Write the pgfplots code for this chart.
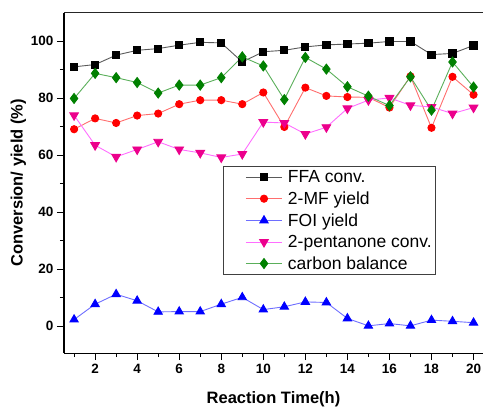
\documentclass[border=0pt]{standalone}
\usepackage{fontspec}
\setmainfont{Liberation Sans}
\usepackage{pgfplots}
\pgfplotsset{compat=1.18}

\definecolor{ffaline}{RGB}{90,90,90}
\definecolor{mfline}{RGB}{255,110,110}
\definecolor{foiline}{RGB}{110,110,255}
\definecolor{penline}{RGB}{255,110,255}
\definecolor{cbline}{RGB}{90,175,90}
\definecolor{cbgreen}{RGB}{0,128,0}

\begin{document}
\begin{tikzpicture}
\begin{axis}[
  name=A,
  scale only axis,
  width=419pt, height=340.5pt,
  xmin=0.52, xmax=20.45,
  ymin=-9.5, ymax=110,
  axis x line*=bottom, axis y line*=left,
  x axis line style={-}, y axis line style={-},
  axis line style={line width=1.1pt, black},
  tick align=outside,
  major tick length=7pt, minor tick length=4pt,
  tick style={line width=1pt, black},
  xtick={2,4,...,20}, minor xtick={1,3,...,19},
  ytick={0,20,...,100}, minor ytick={10,30,...,90},
  /pgf/number format/assume math mode=true,
  tick label style={font=\fontsize{13.5}{15}\selectfont\bfseries},
  xlabel={Reaction Time(h)},
  ylabel={Conversion/ yield (\%)},
  xlabel style={yshift=-11pt},
  ylabel style={yshift=-2pt},
  label style={font=\fontsize{16.5}{18}\selectfont\bfseries},
  legend style={at={(0.379,0.549)}, anchor=north west, draw=black!75,
    font=\fontsize{17.5}{20}\selectfont, cells={anchor=west},
    inner sep=2pt, row sep=3.6pt},
  legend image code/.code={
    \path[draw=none] (-21pt,-4pt) rectangle (40pt,4pt);
    \draw[mark repeat=2,mark phase=2,#1] plot coordinates {(0pt,0pt) (18pt,0pt) (36pt,0pt)};},
  every axis plot/.append style={line width=0.9pt},
]
\addplot[ffaline, mark=square*, mark size=3.6pt, mark options={fill=black, draw=black}] coordinates {
(1,91.0) (2,91.8) (3,95.1) (4,96.8) (5,97.4) (6,98.6) (7,99.6) (8,99.4) (9,92.7) (10,96.3)
(11,96.8) (12,98.0) (13,98.7) (14,99.0) (15,99.3) (16,99.9) (17,99.9) (18,95.3) (19,95.7) (20,98.5)};
\addlegendentry{FFA conv.}
\addplot[mfline, mark=*, mark size=3.6pt, mark options={fill=red, draw=red}] coordinates {
(1,69.1) (2,72.9) (3,71.3) (4,73.9) (5,74.6) (6,77.9) (7,79.3) (8,79.3) (9,77.9) (10,82.0)
(11,69.9) (12,83.7) (13,80.8) (14,80.4) (15,80.3) (16,76.7) (17,87.7) (18,69.6) (19,87.5) (20,81.2)};
\addlegendentry{2-MF yield}
\addplot[foiline, mark=triangle*, mark size=4.8pt, mark options={fill=blue, draw=blue}] coordinates {
(1,2.3) (2,7.7) (3,11.2) (4,8.9) (5,5.0) (6,5.1) (7,5.1) (8,7.7) (9,10.1) (10,5.8)
(11,6.8) (12,8.5) (13,8.3) (14,2.7) (15,0.1) (16,0.9) (17,0.1) (18,2.1) (19,1.7) (20,1.2)};
\addlegendentry{FOI yield}
\addplot[penline, mark=triangle*, mark size=5pt, mark options={fill=magenta, draw=magenta, rotate=180}] coordinates {
(1,74.0) (2,63.5) (3,59.4) (4,62.0) (5,64.7) (6,62.0) (7,60.8) (8,59.2) (9,60.4) (10,71.6)
(11,71.3) (12,67.4) (13,69.8) (14,76.4) (15,79.3) (16,80.1) (17,77.5) (18,76.9) (19,74.6) (20,76.7)};
\addlegendentry{2-pentanone conv.}
\addplot[cbline, mark=diamond*, mark size=5pt, mark options={fill=cbgreen, draw=cbgreen}] coordinates {
(1,79.9) (2,88.7) (3,87.2) (4,85.5) (5,81.8) (6,84.6) (7,84.6) (8,87.2) (9,94.5) (10,91.3)
(11,79.5) (12,94.3) (13,90.2) (14,84.0) (15,80.7) (16,77.4) (17,87.5) (18,75.8) (19,92.7) (20,83.9)};
\addlegendentry{carbon balance}
\draw[line width=1.6pt, black!85] (rel axis cs:0,1) -- (rel axis cs:1,1);
\end{axis}
\pgfresetboundingbox
\path ([xshift=-64pt,yshift=-53pt]A.south west) rectangle ([yshift=12.7pt]A.north east);
\end{tikzpicture}
\end{document}
